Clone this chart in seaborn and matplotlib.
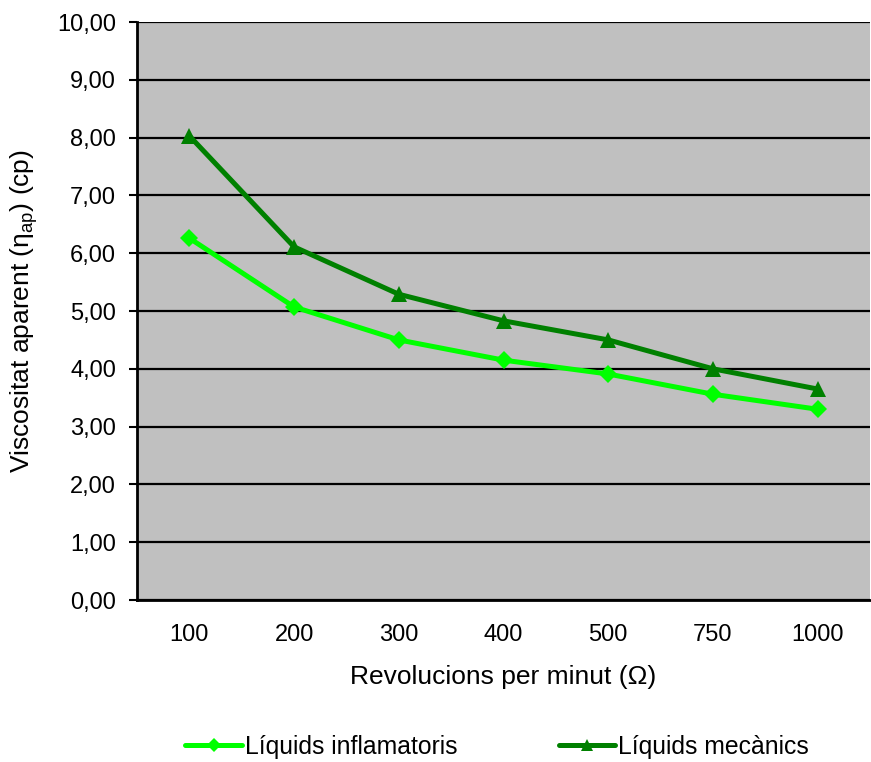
import matplotlib
matplotlib.use("Agg")
import matplotlib.pyplot as plt
import seaborn as sns
import pandas as pd
from matplotlib.ticker import FixedLocator, FuncFormatter

rpm = ["100", "200", "300", "400", "500", "750", "1000"]
inflamatoris = [6.26, 5.07, 4.50, 4.15, 3.91, 3.56, 3.30]
mecanics = [8.03, 6.11, 5.29, 4.83, 4.50, 4.00, 3.65]
series_names = ["Líquids inflamatoris", "Líquids mecànics"]

sns.set_theme(style="white")
plt.rcParams['font.family'] = ['Liberation Sans', 'DejaVu Sans']
plt.rcParams.update({"text.color": "black", "axes.labelcolor": "black",
                     "xtick.color": "black", "ytick.color": "black",
                     "xtick.labelcolor": "black", "ytick.labelcolor": "black"})

fig = plt.figure(figsize=(8.71, 7.62), dpi=100)
ax = fig.add_axes([137/871, 1-600/762, (870-137)/871, (600-22)/762])
ax.set_facecolor("#C0C0C0")

df1 = pd.DataFrame({"rpm": rpm, "v": inflamatoris})
df2 = pd.DataFrame({"rpm": rpm, "v": mecanics})
sns.lineplot(data=df1, x="rpm", y="v", ax=ax, color="#00FF00", lw=3.6,
             marker="D", markersize=9, markeredgewidth=0, label=series_names[0], sort=False)
sns.lineplot(data=df2, x="rpm", y="v", ax=ax, color="#008000", lw=3.6,
             marker="^", markersize=11, markeredgewidth=0, label=series_names[1], sort=False)

ax.set_xlim(-0.5, 6.5)
ax.set_ylim(0, 10)
ax.set_yticks([i for i in range(11)])
ax.yaxis.set_major_formatter(FuncFormatter(lambda v, p: f"{v:.2f}".replace(".", ",")))
ax.yaxis.grid(True, color="black", lw=1.6)
ax.set_axisbelow(True)
ax.xaxis.grid(False)

ax.set_xticks(range(len(rpm)))
ax.set_xticklabels(rpm)
ax.xaxis.set_minor_locator(FixedLocator([i - 0.5 for i in range(len(rpm) + 1)]))
ax.tick_params(axis="x", which="major", length=0, pad=17, labelsize=17, labelcolor="black")
ax.tick_params(axis="x", which="minor", length=6, width=1.5, color="black", direction="out")
ax.tick_params(axis="y", which="major", length=6, width=1.5, color="black", direction="out",
               labelsize=17, left=True, pad=9, labelcolor="black")

for s in ["top", "right"]:
    ax.spines[s].set_visible(False)
for s in ["left", "bottom"]:
    ax.spines[s].set_color("black")
    ax.spines[s].set_linewidth(2)

ax.set_xlabel("Revolucions per minut (Ω)", fontsize=19, labelpad=14, color="black")
ax.set_ylabel(r"Viscositat aparent ($\mathregular{\eta_{ap}}$) (cp)", fontsize=19, labelpad=12,
              color="black")

leg = ax.legend(loc="center", bbox_to_anchor=(497/871, 1-747/762), bbox_transform=fig.transFigure,
                ncol=2, frameon=False, fontsize=17.8, handlelength=2.3, handletextpad=0.1,
                columnspacing=4.1, markerscale=0.75)
for t in leg.get_texts():
    t.set_color("black")

fig.savefig("out.png", dpi=100)
